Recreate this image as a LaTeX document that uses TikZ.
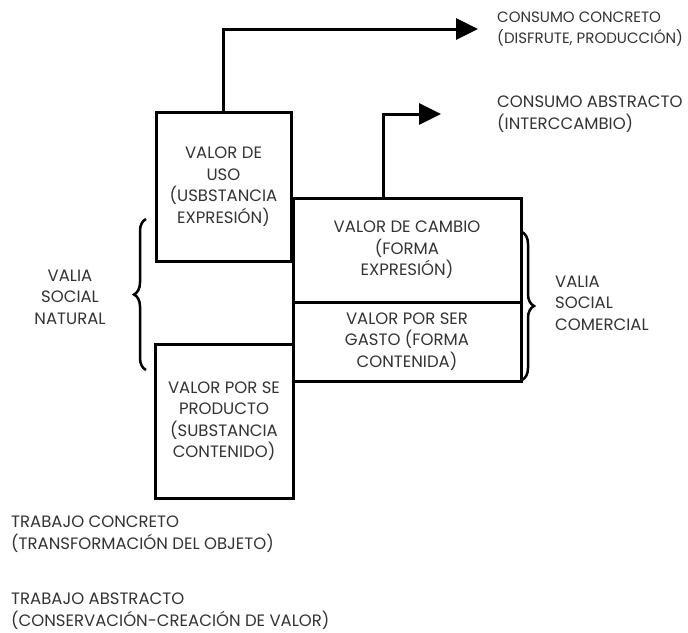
\documentclass[tikz,border=0pt]{standalone}
\usepackage{fontspec}
\setmainfont{Poppins}
\usetikzlibrary{arrows.meta,decorations.pathreplacing}

\tikzset{
  caja/.style={draw, line width=3pt, inner sep=0pt, align=center,
    font=\fontsize{16.5}{21.5}\selectfont, text=black!80},
  texto/.style={inner sep=0pt, font=\fontsize{16.5}{21.5}\selectfont, text=black!80},
  flecha/.style={line width=3pt, -{Triangle[length=22pt,width=21pt]}},
  llave/.style={line width=2.5pt, decorate, decoration={brace, amplitude=12pt}}
}

\begin{document}
\begin{tikzpicture}[x=1pt, y=-1pt]
    % Marco de la figura
    \useasboundingbox (0,0) rectangle (688,632);

    % Cajas de valores
    \node[caja, minimum width=135pt, minimum height=149pt] (uso) at (223.5,186.5)
        {VALOR DE\\USO\\(USBSTANCIA\\EXPRESIÓN)};
    \node[caja, minimum width=228pt, minimum height=104pt] (cambio) at (407,250)
        {VALOR DE CAMBIO\\(FORMA\\EXPRESIÓN)};
    \node[caja, minimum width=228pt, minimum height=79pt] (gasto) at (407,341.5)
        {VALOR POR SER\\GASTO (FORMA\\CONTENIDA)};
    \node[caja, minimum width=138pt, minimum height=154pt] (producto) at (224,421)
        {VALOR POR SE\\PRODUCTO\\(SUBSTANCIA\\CONTENIDO)};

    % Textos de consumo
    \node[texto, anchor=west, align=left, font=\fontsize{15}{21.5}\selectfont] (concreto) at (497,29)
        {CONSUMO CONCRETO\\(DISFRUTE, PRODUCCIÓN)};
    \node[texto, anchor=west, align=left] (abstracto) at (497,114)
        {CONSUMO ABSTRACTO\\(INTERCCAMBIO)};

    % Flechas de consumo
    \draw[flecha] (uso.north) |- ([xshift=-19pt]concreto.west);
    \draw[flecha] ([xshift=-24pt]cambio.north) |- ([xshift=-56pt]abstracto.west);

    % Llaves y valias
    \draw[llave] (146,370) -- (146,219);
    \node[texto, align=center] (natural) at (70,297) {VALIA\\SOCIAL\\NATURAL};
    \draw[llave] (522,232) -- (522,380);
    \node[texto, anchor=west, align=left] (comercial) at (555,303) {VALIA\\SOCIAL\\COMERCIAL};

    % Textos de trabajo
    \node[texto, anchor=west, align=left] (tconcreto) at (11,534)
        {TRABAJO CONCRETO\\(TRANSFORMACIÓN DEL OBJETO)};
    \node[texto, anchor=west, align=left] (tabstracto) at (11,611)
        {TRABAJO ABSTRACTO\\(CONSERVACIÓN-CREACIÓN DE VALOR)};
\end{tikzpicture}
\end{document}
